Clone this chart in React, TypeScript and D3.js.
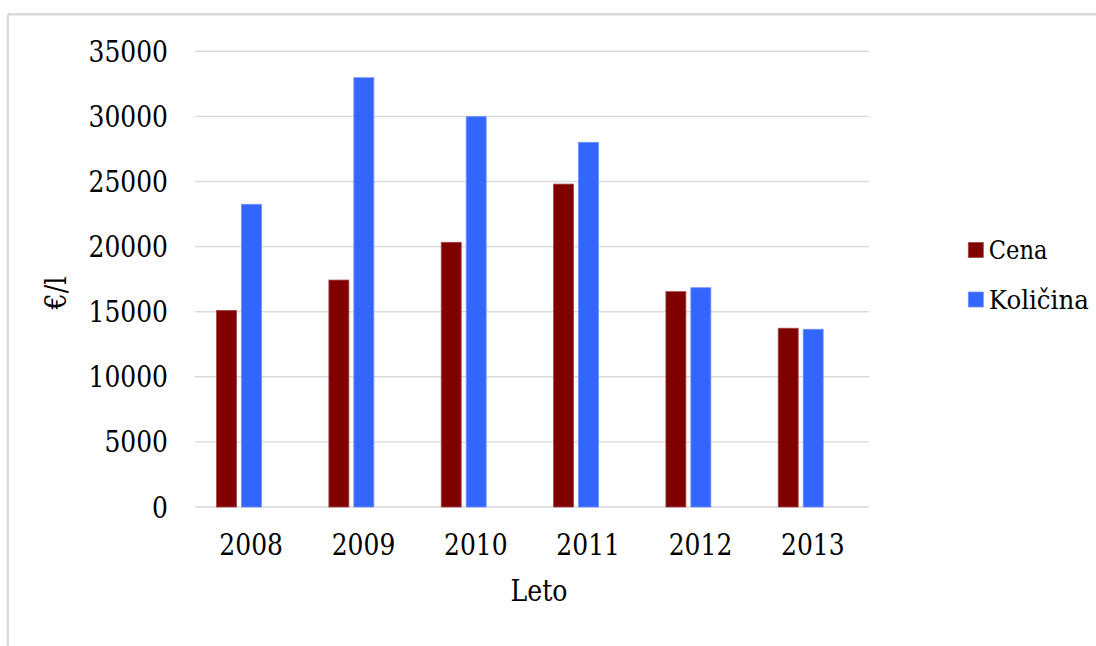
import React from "react";
import * as d3 from "d3";

// Yearly values for the two series
const years = ["2008", "2009", "2010", "2011", "2012", "2013"];
const cena = [15100, 17430, 20330, 24800, 16540, 13730];
const kolicina = [23250, 32970, 29980, 28010, 16840, 13650];
const seriesNames = ["Cena", "Količina"];
const seriesColors = ["#800000", "#3366FF"];
const seriesEdges = ["#a04848", "#6c90ff"];
const legendWidths = [58.7, 100];
const yTicks = [0, 5000, 10000, 15000, 20000, 25000, 30000, 35000];

const W = 1096;
const H = 646;
const plot = { left: 195, right: 869, top: 51.3, bottom: 507 };
const FONT = '"DejaVu Serif", serif';
const textStyle = { fontFamily: FONT };
const DIGIT_W = 15.9;

export default function App() {
  const x = d3.scaleBand<string>().domain(years).range([plot.left, plot.right]).paddingInner(0).paddingOuter(0);
  // bars sit left of centre in each group, as in Excel's clustered layout
  const inner = d3
    .scaleBand<string>()
    .domain(seriesNames)
    .range([0, x.bandwidth()])
    .paddingInner(0.2)
    .paddingOuter(1.35)
    .align(0.32);
  const y = d3.scaleLinear().domain([0, 35000]).range([plot.bottom, plot.top]);

  const series = [cena, kolicina];

  return (
    <svg
      width={W}
      height={H}
      style={{ position: "absolute", left: 0, top: 0, background: "#fff", fontFamily: FONT }}
    >
      <rect x={0} y={0} width={W} height={H} fill="#fff" />
      {/* chart frame */}
      <line x1={7.8} x2={W} y1={14.3} y2={14.3} stroke="#d9d9d9" strokeWidth={2.4} />
      <line x1={7.8} x2={7.8} y1={14.3} y2={H} stroke="#d9d9d9" strokeWidth={2.2} />

      {/* gridlines */}
      {yTicks.map((t) => (
        <line key={t} x1={plot.left} x2={plot.right} y1={y(t)} y2={y(t)} stroke="#d9d9d9" strokeWidth={1.4} />
      ))}

      {/* y tick labels */}
      {yTicks.map((t) => (
        <text
          key={t}
          x={168}
          y={y(t) + 10.5}
          textAnchor="end"
          fontSize={29.5}
          fill="#000"
          style={textStyle}
          textLength={String(t).length * DIGIT_W}
          lengthAdjust="spacingAndGlyphs"
        >
          {t}
        </text>
      ))}

      {/* bars */}
      {series.map((vals, si) =>
        vals.map((v, i) => (
          <rect
            key={`${si}-${i}`}
            x={(x(years[i]) as number) + (inner(seriesNames[si]) as number)}
            y={y(v)}
            width={inner.bandwidth()}
            height={y(0) - y(v)}
            fill={seriesColors[si]}
            stroke={seriesEdges[si]}
            strokeWidth={0.8}
          />
        ))
      )}

      {/* x tick labels */}
      {years.map((yr) => (
        <text
          key={yr}
          x={(x(yr) as number) + x.bandwidth() / 2}
          y={555}
          textAnchor="middle"
          fontSize={29.5}
          fill="#000"
          style={textStyle}
          textLength={yr.length * DIGIT_W}
          lengthAdjust="spacingAndGlyphs"
        >
          {yr}
        </text>
      ))}

      {/* axis titles */}
      <text
        x={539}
        y={601}
        textAnchor="middle"
        fontSize={29.5}
        fill="#000"
        style={textStyle}
        textLength={57}
        lengthAdjust="spacingAndGlyphs"
      >
        Leto
      </text>
      <text
        transform="translate(66,293) rotate(-90)"
        textAnchor="middle"
        fontSize={29.5}
        fill="#000"
        style={textStyle}
        textLength={33}
        lengthAdjust="spacingAndGlyphs"
      >
        €/l
      </text>

      {/* legend */}
      {seriesNames.map((name, i) => (
        <g key={name} transform={`translate(968.3, ${242.5 + i * 49.5})`}>
          <rect x={0} y={0} width={15} height={15} fill={seriesColors[i]} stroke={seriesEdges[i]} strokeWidth={0.8} />
          <text
            x={20.5}
            y={16.8}
            fontSize={26.5}
            fill="#000"
            style={textStyle}
            textLength={legendWidths[i]}
            lengthAdjust="spacingAndGlyphs"
          >
            {name}
          </text>
        </g>
      ))}
    </svg>
  );
}
